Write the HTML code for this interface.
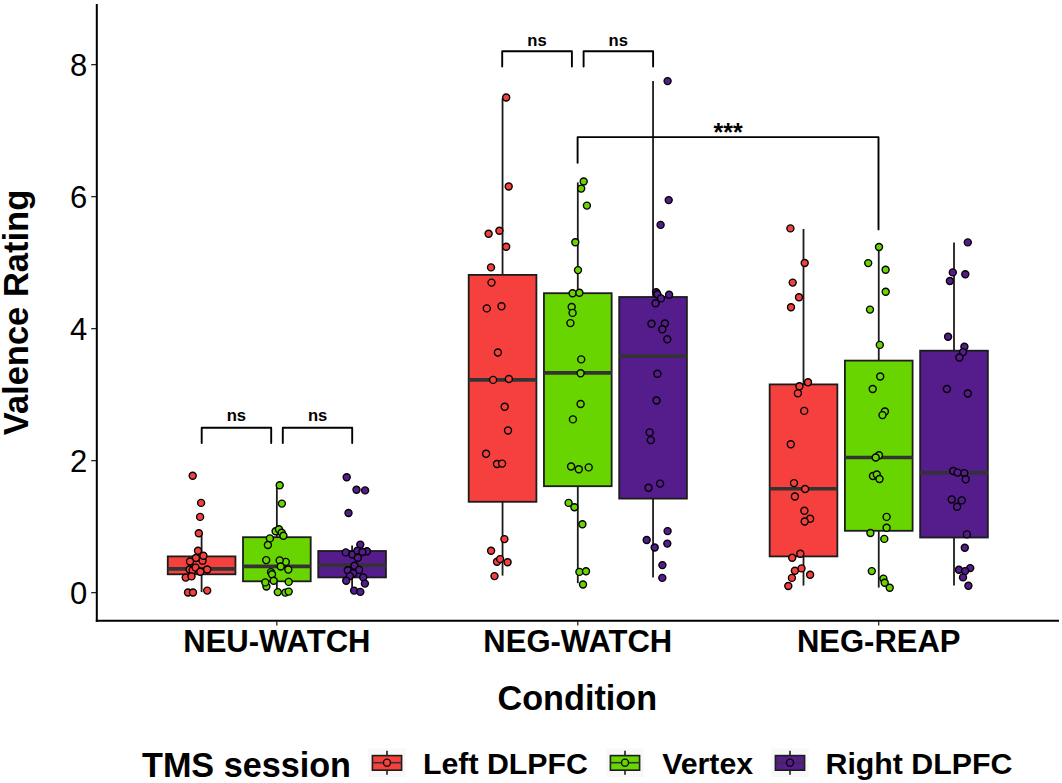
<!DOCTYPE html><html><head><meta charset="utf-8"><style>html,body{margin:0;padding:0;background:#fff;}svg{display:block;}text{font-family:"Liberation Sans",sans-serif;}</style></head><body>
<svg width="1062" height="783" viewBox="0 0 1062 783">
<rect x="0" y="0" width="1062" height="783" fill="#fff"/>
<line x1="201.60" y1="533.3" x2="201.60" y2="556.4" stroke="#1c1c1c" stroke-width="1.8"/>
<line x1="201.60" y1="574.3" x2="201.60" y2="592.1" stroke="#1c1c1c" stroke-width="1.8"/>
<rect x="167.75" y="556.4" width="67.7" height="17.90" fill="#F5403E" stroke="#1c1c1c" stroke-width="1.8"/>
<line x1="167.75" y1="568.9" x2="235.45" y2="568.9" stroke="#333333" stroke-width="3.6"/>
<line x1="276.85" y1="485.2" x2="276.85" y2="537.2" stroke="#1c1c1c" stroke-width="1.8"/>
<line x1="276.85" y1="581.3" x2="276.85" y2="593.0" stroke="#1c1c1c" stroke-width="1.8"/>
<rect x="243.00" y="537.2" width="67.7" height="44.10" fill="#68D400" stroke="#1c1c1c" stroke-width="1.8"/>
<line x1="243.00" y1="566.4" x2="310.70" y2="566.4" stroke="#333333" stroke-width="3.6"/>
<line x1="352.10" y1="545.4" x2="352.10" y2="551.0" stroke="#1c1c1c" stroke-width="1.8"/>
<line x1="352.10" y1="577.4" x2="352.10" y2="590.5" stroke="#1c1c1c" stroke-width="1.8"/>
<rect x="318.25" y="551.0" width="67.7" height="26.40" fill="#551C8C" stroke="#1c1c1c" stroke-width="1.8"/>
<line x1="318.25" y1="565.3" x2="385.95" y2="565.3" stroke="#333333" stroke-width="3.6"/>
<line x1="502.55" y1="98.4" x2="502.55" y2="274.9" stroke="#1c1c1c" stroke-width="1.8"/>
<line x1="502.55" y1="501.8" x2="502.55" y2="575.6" stroke="#1c1c1c" stroke-width="1.8"/>
<rect x="468.70" y="274.9" width="67.7" height="226.90" fill="#F5403E" stroke="#1c1c1c" stroke-width="1.8"/>
<line x1="468.70" y1="379.9" x2="536.40" y2="379.9" stroke="#333333" stroke-width="3.6"/>
<line x1="577.80" y1="182.4" x2="577.80" y2="293.2" stroke="#1c1c1c" stroke-width="1.8"/>
<line x1="577.80" y1="486.2" x2="577.80" y2="583.2" stroke="#1c1c1c" stroke-width="1.8"/>
<rect x="543.95" y="293.2" width="67.7" height="193.00" fill="#68D400" stroke="#1c1c1c" stroke-width="1.8"/>
<line x1="543.95" y1="372.9" x2="611.65" y2="372.9" stroke="#333333" stroke-width="3.6"/>
<line x1="653.05" y1="81.1" x2="653.05" y2="297.0" stroke="#1c1c1c" stroke-width="1.8"/>
<line x1="653.05" y1="498.6" x2="653.05" y2="577.6" stroke="#1c1c1c" stroke-width="1.8"/>
<rect x="619.20" y="297.0" width="67.7" height="201.60" fill="#551C8C" stroke="#1c1c1c" stroke-width="1.8"/>
<line x1="619.20" y1="356.3" x2="686.90" y2="356.3" stroke="#333333" stroke-width="3.6"/>
<line x1="803.50" y1="229.0" x2="803.50" y2="384.4" stroke="#1c1c1c" stroke-width="1.8"/>
<line x1="803.50" y1="556.4" x2="803.50" y2="585.6" stroke="#1c1c1c" stroke-width="1.8"/>
<rect x="769.65" y="384.4" width="67.7" height="172.00" fill="#F5403E" stroke="#1c1c1c" stroke-width="1.8"/>
<line x1="769.65" y1="488.8" x2="837.35" y2="488.8" stroke="#333333" stroke-width="3.6"/>
<line x1="878.75" y1="247.0" x2="878.75" y2="360.6" stroke="#1c1c1c" stroke-width="1.8"/>
<line x1="878.75" y1="530.8" x2="878.75" y2="587.6" stroke="#1c1c1c" stroke-width="1.8"/>
<rect x="844.90" y="360.6" width="67.7" height="170.20" fill="#68D400" stroke="#1c1c1c" stroke-width="1.8"/>
<line x1="844.90" y1="457.5" x2="912.60" y2="457.5" stroke="#333333" stroke-width="3.6"/>
<line x1="954.00" y1="242.5" x2="954.00" y2="350.7" stroke="#1c1c1c" stroke-width="1.8"/>
<line x1="954.00" y1="537.5" x2="954.00" y2="585.4" stroke="#1c1c1c" stroke-width="1.8"/>
<rect x="920.15" y="350.7" width="67.7" height="186.80" fill="#551C8C" stroke="#1c1c1c" stroke-width="1.8"/>
<line x1="920.15" y1="472.8" x2="987.85" y2="472.8" stroke="#333333" stroke-width="3.6"/>
<circle cx="192.7" cy="475.7" r="3.5" fill="#F5403E" stroke="#000" stroke-width="1.4"/>
<circle cx="201.1" cy="502.9" r="3.5" fill="#F5403E" stroke="#000" stroke-width="1.4"/>
<circle cx="200.1" cy="516.9" r="3.5" fill="#F5403E" stroke="#000" stroke-width="1.4"/>
<circle cx="198.8" cy="533.3" r="3.5" fill="#F5403E" stroke="#000" stroke-width="1.4"/>
<circle cx="198" cy="550.7" r="3.5" fill="#F5403E" stroke="#000" stroke-width="1.4"/>
<circle cx="202.6" cy="560.7" r="3.5" fill="#F5403E" stroke="#000" stroke-width="1.4"/>
<circle cx="203.4" cy="555.7" r="3.5" fill="#F5403E" stroke="#000" stroke-width="1.4"/>
<circle cx="195.9" cy="558" r="3.5" fill="#F5403E" stroke="#000" stroke-width="1.4"/>
<circle cx="190" cy="561.5" r="3.5" fill="#F5403E" stroke="#000" stroke-width="1.4"/>
<circle cx="189.6" cy="569.5" r="3.5" fill="#F5403E" stroke="#000" stroke-width="1.4"/>
<circle cx="192.6" cy="570.3" r="3.5" fill="#F5403E" stroke="#000" stroke-width="1.4"/>
<circle cx="195.6" cy="567.6" r="3.5" fill="#F5403E" stroke="#000" stroke-width="1.4"/>
<circle cx="200.3" cy="571.8" r="3.5" fill="#F5403E" stroke="#000" stroke-width="1.4"/>
<circle cx="207.2" cy="569.5" r="3.5" fill="#F5403E" stroke="#000" stroke-width="1.4"/>
<circle cx="185.7" cy="577.6" r="3.5" fill="#F5403E" stroke="#000" stroke-width="1.4"/>
<circle cx="191.5" cy="576.4" r="3.5" fill="#F5403E" stroke="#000" stroke-width="1.4"/>
<circle cx="188" cy="592.5" r="3.5" fill="#F5403E" stroke="#000" stroke-width="1.4"/>
<circle cx="193" cy="592.5" r="3.5" fill="#F5403E" stroke="#000" stroke-width="1.4"/>
<circle cx="207.2" cy="590.6" r="3.5" fill="#F5403E" stroke="#000" stroke-width="1.4"/>
<circle cx="279.7" cy="485.2" r="3.5" fill="#68D400" stroke="#000" stroke-width="1.4"/>
<circle cx="281.9" cy="503.6" r="3.5" fill="#68D400" stroke="#000" stroke-width="1.4"/>
<circle cx="275.6" cy="531.2" r="3.5" fill="#68D400" stroke="#000" stroke-width="1.4"/>
<circle cx="278.9" cy="529.2" r="3.5" fill="#68D400" stroke="#000" stroke-width="1.4"/>
<circle cx="281.7" cy="532.8" r="3.5" fill="#68D400" stroke="#000" stroke-width="1.4"/>
<circle cx="283.4" cy="535.8" r="3.5" fill="#68D400" stroke="#000" stroke-width="1.4"/>
<circle cx="269.9" cy="538.4" r="3.5" fill="#68D400" stroke="#000" stroke-width="1.4"/>
<circle cx="267.9" cy="545" r="3.5" fill="#68D400" stroke="#000" stroke-width="1.4"/>
<circle cx="266.2" cy="560.1" r="3.5" fill="#68D400" stroke="#000" stroke-width="1.4"/>
<circle cx="285.8" cy="561.9" r="3.5" fill="#68D400" stroke="#000" stroke-width="1.4"/>
<circle cx="279.7" cy="560.4" r="3.5" fill="#68D400" stroke="#000" stroke-width="1.4"/>
<circle cx="280.7" cy="566.5" r="3.5" fill="#68D400" stroke="#000" stroke-width="1.4"/>
<circle cx="288.3" cy="569.6" r="3.5" fill="#68D400" stroke="#000" stroke-width="1.4"/>
<circle cx="271" cy="572.1" r="3.5" fill="#68D400" stroke="#000" stroke-width="1.4"/>
<circle cx="272" cy="574.2" r="3.5" fill="#68D400" stroke="#000" stroke-width="1.4"/>
<circle cx="273.7" cy="580.8" r="3.5" fill="#68D400" stroke="#000" stroke-width="1.4"/>
<circle cx="266.4" cy="586.5" r="3.5" fill="#68D400" stroke="#000" stroke-width="1.4"/>
<circle cx="265.3" cy="582.4" r="3.5" fill="#68D400" stroke="#000" stroke-width="1.4"/>
<circle cx="288.7" cy="581.9" r="3.5" fill="#68D400" stroke="#000" stroke-width="1.4"/>
<circle cx="277.8" cy="592.1" r="3.5" fill="#68D400" stroke="#000" stroke-width="1.4"/>
<circle cx="285.3" cy="592.6" r="3.5" fill="#68D400" stroke="#000" stroke-width="1.4"/>
<circle cx="288.7" cy="591.6" r="3.5" fill="#68D400" stroke="#000" stroke-width="1.4"/>
<circle cx="346.7" cy="477.2" r="3.5" fill="#551C8C" stroke="#000" stroke-width="1.4"/>
<circle cx="356.5" cy="489.7" r="3.5" fill="#551C8C" stroke="#000" stroke-width="1.4"/>
<circle cx="365.1" cy="490.4" r="3.5" fill="#551C8C" stroke="#000" stroke-width="1.4"/>
<circle cx="348.5" cy="513" r="3.5" fill="#551C8C" stroke="#000" stroke-width="1.4"/>
<circle cx="360.3" cy="544.6" r="3.5" fill="#551C8C" stroke="#000" stroke-width="1.4"/>
<circle cx="345.8" cy="552.4" r="3.5" fill="#551C8C" stroke="#000" stroke-width="1.4"/>
<circle cx="352.4" cy="554.5" r="3.5" fill="#551C8C" stroke="#000" stroke-width="1.4"/>
<circle cx="357.4" cy="550.8" r="3.5" fill="#551C8C" stroke="#000" stroke-width="1.4"/>
<circle cx="366.9" cy="551.2" r="3.5" fill="#551C8C" stroke="#000" stroke-width="1.4"/>
<circle cx="362.4" cy="552" r="3.5" fill="#551C8C" stroke="#000" stroke-width="1.4"/>
<circle cx="357.8" cy="557.8" r="3.5" fill="#551C8C" stroke="#000" stroke-width="1.4"/>
<circle cx="354.5" cy="565.7" r="3.5" fill="#551C8C" stroke="#000" stroke-width="1.4"/>
<circle cx="359.1" cy="569.9" r="3.5" fill="#551C8C" stroke="#000" stroke-width="1.4"/>
<circle cx="347.8" cy="570.3" r="3.5" fill="#551C8C" stroke="#000" stroke-width="1.4"/>
<circle cx="353.2" cy="573.2" r="3.5" fill="#551C8C" stroke="#000" stroke-width="1.4"/>
<circle cx="349.9" cy="576.1" r="3.5" fill="#551C8C" stroke="#000" stroke-width="1.4"/>
<circle cx="346.2" cy="580.7" r="3.5" fill="#551C8C" stroke="#000" stroke-width="1.4"/>
<circle cx="363.2" cy="577.4" r="3.5" fill="#551C8C" stroke="#000" stroke-width="1.4"/>
<circle cx="364.9" cy="583.6" r="3.5" fill="#551C8C" stroke="#000" stroke-width="1.4"/>
<circle cx="354.1" cy="590.6" r="3.5" fill="#551C8C" stroke="#000" stroke-width="1.4"/>
<circle cx="360.3" cy="591.9" r="3.5" fill="#551C8C" stroke="#000" stroke-width="1.4"/>
<circle cx="506.2" cy="97.5" r="3.5" fill="#F5403E" stroke="#000" stroke-width="1.4"/>
<circle cx="508.7" cy="186.5" r="3.5" fill="#F5403E" stroke="#000" stroke-width="1.4"/>
<circle cx="488.6" cy="233.8" r="3.5" fill="#F5403E" stroke="#000" stroke-width="1.4"/>
<circle cx="499.4" cy="230.7" r="3.5" fill="#F5403E" stroke="#000" stroke-width="1.4"/>
<circle cx="506.2" cy="246.7" r="3.5" fill="#F5403E" stroke="#000" stroke-width="1.4"/>
<circle cx="491" cy="267.4" r="3.5" fill="#F5403E" stroke="#000" stroke-width="1.4"/>
<circle cx="491.5" cy="282.6" r="3.5" fill="#F5403E" stroke="#000" stroke-width="1.4"/>
<circle cx="486.8" cy="308.4" r="3.5" fill="#F5403E" stroke="#000" stroke-width="1.4"/>
<circle cx="501.5" cy="306.3" r="3.5" fill="#F5403E" stroke="#000" stroke-width="1.4"/>
<circle cx="497.9" cy="352.5" r="3.5" fill="#F5403E" stroke="#000" stroke-width="1.4"/>
<circle cx="493.1" cy="379.9" r="3.5" fill="#F5403E" stroke="#000" stroke-width="1.4"/>
<circle cx="508.9" cy="379" r="3.5" fill="#F5403E" stroke="#000" stroke-width="1.4"/>
<circle cx="504.7" cy="406.7" r="3.5" fill="#F5403E" stroke="#000" stroke-width="1.4"/>
<circle cx="508" cy="430.5" r="3.5" fill="#F5403E" stroke="#000" stroke-width="1.4"/>
<circle cx="486.1" cy="453.8" r="3.5" fill="#F5403E" stroke="#000" stroke-width="1.4"/>
<circle cx="497" cy="464" r="3.5" fill="#F5403E" stroke="#000" stroke-width="1.4"/>
<circle cx="502.1" cy="463.6" r="3.5" fill="#F5403E" stroke="#000" stroke-width="1.4"/>
<circle cx="504.4" cy="539.1" r="3.5" fill="#F5403E" stroke="#000" stroke-width="1.4"/>
<circle cx="491.1" cy="550.7" r="3.5" fill="#F5403E" stroke="#000" stroke-width="1.4"/>
<circle cx="497" cy="561.8" r="3.5" fill="#F5403E" stroke="#000" stroke-width="1.4"/>
<circle cx="500.1" cy="559.1" r="3.5" fill="#F5403E" stroke="#000" stroke-width="1.4"/>
<circle cx="507.6" cy="562.3" r="3.5" fill="#F5403E" stroke="#000" stroke-width="1.4"/>
<circle cx="494.5" cy="576.1" r="3.5" fill="#F5403E" stroke="#000" stroke-width="1.4"/>
<circle cx="583.7" cy="181.5" r="3.5" fill="#68D400" stroke="#000" stroke-width="1.4"/>
<circle cx="581.2" cy="188.6" r="3.5" fill="#68D400" stroke="#000" stroke-width="1.4"/>
<circle cx="586.9" cy="205.6" r="3.5" fill="#68D400" stroke="#000" stroke-width="1.4"/>
<circle cx="575.3" cy="242.3" r="3.5" fill="#68D400" stroke="#000" stroke-width="1.4"/>
<circle cx="578" cy="270.1" r="3.5" fill="#68D400" stroke="#000" stroke-width="1.4"/>
<circle cx="572.6" cy="293.3" r="3.5" fill="#68D400" stroke="#000" stroke-width="1.4"/>
<circle cx="579.4" cy="292.8" r="3.5" fill="#68D400" stroke="#000" stroke-width="1.4"/>
<circle cx="571.7" cy="307" r="3.5" fill="#68D400" stroke="#000" stroke-width="1.4"/>
<circle cx="572.6" cy="312.9" r="3.5" fill="#68D400" stroke="#000" stroke-width="1.4"/>
<circle cx="570.4" cy="323.1" r="3.5" fill="#68D400" stroke="#000" stroke-width="1.4"/>
<circle cx="581.2" cy="359.4" r="3.5" fill="#68D400" stroke="#000" stroke-width="1.4"/>
<circle cx="580.6" cy="373.2" r="3.5" fill="#68D400" stroke="#000" stroke-width="1.4"/>
<circle cx="580.6" cy="404" r="3.5" fill="#68D400" stroke="#000" stroke-width="1.4"/>
<circle cx="572.9" cy="419.4" r="3.5" fill="#68D400" stroke="#000" stroke-width="1.4"/>
<circle cx="571.1" cy="466.5" r="3.5" fill="#68D400" stroke="#000" stroke-width="1.4"/>
<circle cx="578.8" cy="469.2" r="3.5" fill="#68D400" stroke="#000" stroke-width="1.4"/>
<circle cx="588.7" cy="467.4" r="3.5" fill="#68D400" stroke="#000" stroke-width="1.4"/>
<circle cx="568.6" cy="502.9" r="3.5" fill="#68D400" stroke="#000" stroke-width="1.4"/>
<circle cx="574.4" cy="507.2" r="3.5" fill="#68D400" stroke="#000" stroke-width="1.4"/>
<circle cx="582.4" cy="524.3" r="3.5" fill="#68D400" stroke="#000" stroke-width="1.4"/>
<circle cx="579.4" cy="571.9" r="3.5" fill="#68D400" stroke="#000" stroke-width="1.4"/>
<circle cx="586" cy="571.2" r="3.5" fill="#68D400" stroke="#000" stroke-width="1.4"/>
<circle cx="583" cy="584.5" r="3.5" fill="#68D400" stroke="#000" stroke-width="1.4"/>
<circle cx="667.6" cy="81.1" r="3.5" fill="#551C8C" stroke="#000" stroke-width="1.4"/>
<circle cx="668.7" cy="200.1" r="3.5" fill="#551C8C" stroke="#000" stroke-width="1.4"/>
<circle cx="660.6" cy="224.9" r="3.5" fill="#551C8C" stroke="#000" stroke-width="1.4"/>
<circle cx="656.2" cy="292.2" r="3.5" fill="#551C8C" stroke="#000" stroke-width="1.4"/>
<circle cx="657.4" cy="294.3" r="3.5" fill="#551C8C" stroke="#000" stroke-width="1.4"/>
<circle cx="661" cy="298.4" r="3.5" fill="#551C8C" stroke="#000" stroke-width="1.4"/>
<circle cx="669.1" cy="294.7" r="3.5" fill="#551C8C" stroke="#000" stroke-width="1.4"/>
<circle cx="655.6" cy="303.3" r="3.5" fill="#551C8C" stroke="#000" stroke-width="1.4"/>
<circle cx="651.5" cy="323.8" r="3.5" fill="#551C8C" stroke="#000" stroke-width="1.4"/>
<circle cx="664.9" cy="323.5" r="3.5" fill="#551C8C" stroke="#000" stroke-width="1.4"/>
<circle cx="662.3" cy="329.2" r="3.5" fill="#551C8C" stroke="#000" stroke-width="1.4"/>
<circle cx="667.3" cy="339.3" r="3.5" fill="#551C8C" stroke="#000" stroke-width="1.4"/>
<circle cx="657.4" cy="373.7" r="3.5" fill="#551C8C" stroke="#000" stroke-width="1.4"/>
<circle cx="656.5" cy="400.5" r="3.5" fill="#551C8C" stroke="#000" stroke-width="1.4"/>
<circle cx="649.7" cy="432.4" r="3.5" fill="#551C8C" stroke="#000" stroke-width="1.4"/>
<circle cx="650.8" cy="440.1" r="3.5" fill="#551C8C" stroke="#000" stroke-width="1.4"/>
<circle cx="648.5" cy="487.7" r="3.5" fill="#551C8C" stroke="#000" stroke-width="1.4"/>
<circle cx="660.1" cy="483.6" r="3.5" fill="#551C8C" stroke="#000" stroke-width="1.4"/>
<circle cx="667.6" cy="531.1" r="3.5" fill="#551C8C" stroke="#000" stroke-width="1.4"/>
<circle cx="646.7" cy="540" r="3.5" fill="#551C8C" stroke="#000" stroke-width="1.4"/>
<circle cx="667.3" cy="543.6" r="3.5" fill="#551C8C" stroke="#000" stroke-width="1.4"/>
<circle cx="654.7" cy="547.5" r="3.5" fill="#551C8C" stroke="#000" stroke-width="1.4"/>
<circle cx="662.4" cy="565.1" r="3.5" fill="#551C8C" stroke="#000" stroke-width="1.4"/>
<circle cx="662.3" cy="577.9" r="3.5" fill="#551C8C" stroke="#000" stroke-width="1.4"/>
<circle cx="790.4" cy="228.4" r="3.5" fill="#F5403E" stroke="#000" stroke-width="1.4"/>
<circle cx="804.7" cy="263" r="3.5" fill="#F5403E" stroke="#000" stroke-width="1.4"/>
<circle cx="792.7" cy="282.6" r="3.5" fill="#F5403E" stroke="#000" stroke-width="1.4"/>
<circle cx="799" cy="297.3" r="3.5" fill="#F5403E" stroke="#000" stroke-width="1.4"/>
<circle cx="791" cy="307.2" r="3.5" fill="#F5403E" stroke="#000" stroke-width="1.4"/>
<circle cx="808" cy="382.2" r="3.5" fill="#F5403E" stroke="#000" stroke-width="1.4"/>
<circle cx="799.4" cy="386.2" r="3.5" fill="#F5403E" stroke="#000" stroke-width="1.4"/>
<circle cx="797.9" cy="393.3" r="3.5" fill="#F5403E" stroke="#000" stroke-width="1.4"/>
<circle cx="804.2" cy="410.9" r="3.5" fill="#F5403E" stroke="#000" stroke-width="1.4"/>
<circle cx="790.8" cy="444.3" r="3.5" fill="#F5403E" stroke="#000" stroke-width="1.4"/>
<circle cx="794" cy="483.1" r="3.5" fill="#F5403E" stroke="#000" stroke-width="1.4"/>
<circle cx="805.1" cy="489" r="3.5" fill="#F5403E" stroke="#000" stroke-width="1.4"/>
<circle cx="794.9" cy="496.5" r="3.5" fill="#F5403E" stroke="#000" stroke-width="1.4"/>
<circle cx="804.4" cy="510.8" r="3.5" fill="#F5403E" stroke="#000" stroke-width="1.4"/>
<circle cx="810.1" cy="518.8" r="3.5" fill="#F5403E" stroke="#000" stroke-width="1.4"/>
<circle cx="804.7" cy="521.5" r="3.5" fill="#F5403E" stroke="#000" stroke-width="1.4"/>
<circle cx="800.3" cy="553.7" r="3.5" fill="#F5403E" stroke="#000" stroke-width="1.4"/>
<circle cx="792.2" cy="557.7" r="3.5" fill="#F5403E" stroke="#000" stroke-width="1.4"/>
<circle cx="801.5" cy="568.4" r="3.5" fill="#F5403E" stroke="#000" stroke-width="1.4"/>
<circle cx="794.9" cy="570.7" r="3.5" fill="#F5403E" stroke="#000" stroke-width="1.4"/>
<circle cx="810.1" cy="574.7" r="3.5" fill="#F5403E" stroke="#000" stroke-width="1.4"/>
<circle cx="791.9" cy="577.9" r="3.5" fill="#F5403E" stroke="#000" stroke-width="1.4"/>
<circle cx="788.3" cy="586" r="3.5" fill="#F5403E" stroke="#000" stroke-width="1.4"/>
<circle cx="879" cy="247" r="3.5" fill="#68D400" stroke="#000" stroke-width="1.4"/>
<circle cx="868.2" cy="263.1" r="3.5" fill="#68D400" stroke="#000" stroke-width="1.4"/>
<circle cx="885.6" cy="269.7" r="3.5" fill="#68D400" stroke="#000" stroke-width="1.4"/>
<circle cx="885.7" cy="291.7" r="3.5" fill="#68D400" stroke="#000" stroke-width="1.4"/>
<circle cx="870" cy="309.6" r="3.5" fill="#68D400" stroke="#000" stroke-width="1.4"/>
<circle cx="879.8" cy="344.9" r="3.5" fill="#68D400" stroke="#000" stroke-width="1.4"/>
<circle cx="880.2" cy="376.5" r="3.5" fill="#68D400" stroke="#000" stroke-width="1.4"/>
<circle cx="872.7" cy="389" r="3.5" fill="#68D400" stroke="#000" stroke-width="1.4"/>
<circle cx="884.9" cy="411.5" r="3.5" fill="#68D400" stroke="#000" stroke-width="1.4"/>
<circle cx="882.5" cy="415.1" r="3.5" fill="#68D400" stroke="#000" stroke-width="1.4"/>
<circle cx="879" cy="455.2" r="3.5" fill="#68D400" stroke="#000" stroke-width="1.4"/>
<circle cx="875.7" cy="457.5" r="3.5" fill="#68D400" stroke="#000" stroke-width="1.4"/>
<circle cx="873" cy="476" r="3.5" fill="#68D400" stroke="#000" stroke-width="1.4"/>
<circle cx="876.8" cy="474.5" r="3.5" fill="#68D400" stroke="#000" stroke-width="1.4"/>
<circle cx="879.5" cy="479" r="3.5" fill="#68D400" stroke="#000" stroke-width="1.4"/>
<circle cx="886.6" cy="516.9" r="3.5" fill="#68D400" stroke="#000" stroke-width="1.4"/>
<circle cx="886.6" cy="527.8" r="3.5" fill="#68D400" stroke="#000" stroke-width="1.4"/>
<circle cx="870.4" cy="533" r="3.5" fill="#68D400" stroke="#000" stroke-width="1.4"/>
<circle cx="884.3" cy="538.9" r="3.5" fill="#68D400" stroke="#000" stroke-width="1.4"/>
<circle cx="871.8" cy="571.1" r="3.5" fill="#68D400" stroke="#000" stroke-width="1.4"/>
<circle cx="883.4" cy="578.6" r="3.5" fill="#68D400" stroke="#000" stroke-width="1.4"/>
<circle cx="884.7" cy="582.7" r="3.5" fill="#68D400" stroke="#000" stroke-width="1.4"/>
<circle cx="889.7" cy="587.8" r="3.5" fill="#68D400" stroke="#000" stroke-width="1.4"/>
<circle cx="967.8" cy="242.4" r="3.5" fill="#551C8C" stroke="#000" stroke-width="1.4"/>
<circle cx="952.8" cy="272.4" r="3.5" fill="#551C8C" stroke="#000" stroke-width="1.4"/>
<circle cx="965.3" cy="274.2" r="3.5" fill="#551C8C" stroke="#000" stroke-width="1.4"/>
<circle cx="949.9" cy="281" r="3.5" fill="#551C8C" stroke="#000" stroke-width="1.4"/>
<circle cx="948.1" cy="336.8" r="3.5" fill="#551C8C" stroke="#000" stroke-width="1.4"/>
<circle cx="964.4" cy="346.7" r="3.5" fill="#551C8C" stroke="#000" stroke-width="1.4"/>
<circle cx="963" cy="352.1" r="3.5" fill="#551C8C" stroke="#000" stroke-width="1.4"/>
<circle cx="959.4" cy="357.5" r="3.5" fill="#551C8C" stroke="#000" stroke-width="1.4"/>
<circle cx="946.9" cy="389" r="3.5" fill="#551C8C" stroke="#000" stroke-width="1.4"/>
<circle cx="967.8" cy="393.5" r="3.5" fill="#551C8C" stroke="#000" stroke-width="1.4"/>
<circle cx="953.2" cy="471" r="3.5" fill="#551C8C" stroke="#000" stroke-width="1.4"/>
<circle cx="957.6" cy="472.6" r="3.5" fill="#551C8C" stroke="#000" stroke-width="1.4"/>
<circle cx="964.3" cy="473.1" r="3.5" fill="#551C8C" stroke="#000" stroke-width="1.4"/>
<circle cx="965.7" cy="479.2" r="3.5" fill="#551C8C" stroke="#000" stroke-width="1.4"/>
<circle cx="951.7" cy="499.5" r="3.5" fill="#551C8C" stroke="#000" stroke-width="1.4"/>
<circle cx="961.7" cy="500.4" r="3.5" fill="#551C8C" stroke="#000" stroke-width="1.4"/>
<circle cx="957.1" cy="506.7" r="3.5" fill="#551C8C" stroke="#000" stroke-width="1.4"/>
<circle cx="966.9" cy="534.4" r="3.5" fill="#551C8C" stroke="#000" stroke-width="1.4"/>
<circle cx="964.8" cy="547.8" r="3.5" fill="#551C8C" stroke="#000" stroke-width="1.4"/>
<circle cx="958.9" cy="569.7" r="3.5" fill="#551C8C" stroke="#000" stroke-width="1.4"/>
<circle cx="970.2" cy="568.1" r="3.5" fill="#551C8C" stroke="#000" stroke-width="1.4"/>
<circle cx="965.1" cy="571.1" r="3.5" fill="#551C8C" stroke="#000" stroke-width="1.4"/>
<circle cx="963" cy="577.4" r="3.5" fill="#551C8C" stroke="#000" stroke-width="1.4"/>
<circle cx="968.4" cy="585.8" r="3.5" fill="#551C8C" stroke="#000" stroke-width="1.4"/>
<line x1="96.8" y1="4" x2="96.8" y2="621.7" stroke="#000" stroke-width="2"/>
<line x1="95.8" y1="620.8" x2="1059" y2="620.8" stroke="#000" stroke-width="2"/>
<line x1="91.2" y1="592.7" x2="96" y2="592.7" stroke="#000" stroke-width="1.1"/>
<text x="87.3" y="603.8" font-size="31" text-anchor="end" fill="#000">0</text>
<line x1="91.2" y1="460.7" x2="96" y2="460.7" stroke="#000" stroke-width="1.1"/>
<text x="87.3" y="471.8" font-size="31" text-anchor="end" fill="#000">2</text>
<line x1="91.2" y1="328.7" x2="96" y2="328.7" stroke="#000" stroke-width="1.1"/>
<text x="87.3" y="339.8" font-size="31" text-anchor="end" fill="#000">4</text>
<line x1="91.2" y1="196.7" x2="96" y2="196.7" stroke="#000" stroke-width="1.1"/>
<text x="87.3" y="207.8" font-size="31" text-anchor="end" fill="#000">6</text>
<line x1="91.2" y1="64.7" x2="96" y2="64.7" stroke="#000" stroke-width="1.1"/>
<text x="87.3" y="75.8" font-size="31" text-anchor="end" fill="#000">8</text>
<line x1="276.85" y1="621.5" x2="276.85" y2="625.5" stroke="#000" stroke-width="1.1"/>
<text x="276.85" y="652.3" font-size="31.0" font-weight="bold" text-anchor="middle" fill="#000">NEU-WATCH</text>
<line x1="577.80" y1="621.5" x2="577.80" y2="625.5" stroke="#000" stroke-width="1.1"/>
<text x="577.80" y="652.3" font-size="31.0" font-weight="bold" text-anchor="middle" fill="#000">NEG-WATCH</text>
<line x1="878.75" y1="621.5" x2="878.75" y2="625.5" stroke="#000" stroke-width="1.1"/>
<text x="878.75" y="652.3" font-size="31.0" font-weight="bold" text-anchor="middle" fill="#000">NEG-REAP</text>
<text x="577.3" y="709.9" font-size="34.2" font-weight="bold" text-anchor="middle" fill="#000">Condition</text>
<text transform="translate(27.8,312.5) rotate(-90)" x="0" y="0" font-size="34.5" font-weight="bold" text-anchor="middle" fill="#000">Valence Rating</text>
<path d="M201.7,443 L201.7,427.8 L271.2,427.8 L271.2,443" fill="none" stroke="#000" stroke-width="1.9" stroke-linejoin="round" stroke-linecap="round"/>
<path d="M282.8,443 L282.8,427.8 L352.2,427.8 L352.2,443" fill="none" stroke="#000" stroke-width="1.9" stroke-linejoin="round" stroke-linecap="round"/>
<text x="236.4" y="421.4" font-size="16.6" font-weight="bold" text-anchor="middle" fill="#000">ns</text>
<text x="317.6" y="421.4" font-size="16.6" font-weight="bold" text-anchor="middle" fill="#000">ns</text>
<path d="M502.2,66.5 L502.2,51.3 L571.9,51.3 L571.9,66.5" fill="none" stroke="#000" stroke-width="1.9" stroke-linejoin="round" stroke-linecap="round"/>
<path d="M583.6,66.5 L583.6,51.3 L653.1,51.3 L653.1,66.5" fill="none" stroke="#000" stroke-width="1.9" stroke-linejoin="round" stroke-linecap="round"/>
<text x="537" y="45.7" font-size="16.6" font-weight="bold" text-anchor="middle" fill="#000">ns</text>
<text x="618.3" y="45.7" font-size="16.6" font-weight="bold" text-anchor="middle" fill="#000">ns</text>
<path d="M577.6,162.8 L577.6,137.1 L878.5,137.1 L878.5,229.4" fill="none" stroke="#000" stroke-width="1.9" stroke-linejoin="round" stroke-linecap="round"/>
<text x="728.1" y="140.5" font-size="25" font-weight="bold" text-anchor="middle" fill="#000">***</text>
<text x="142" y="777.1" font-size="34.2" font-weight="bold" fill="#000">TMS session</text>
<rect x="368.3" y="748.6" width="37.4" height="28.4" fill="#f8f8f8"/>
<line x1="387.0" y1="750.8" x2="387.0" y2="774.8" stroke="#1c1c1c" stroke-width="1.6"/>
<rect x="372.4" y="755.6" width="29.2" height="14.6" fill="#F5403E" stroke="#1c1c1c" stroke-width="1.6"/>
<line x1="372.4" y1="762.7" x2="401.6" y2="762.7" stroke="#333333" stroke-width="1.6"/>
<circle cx="387.0" cy="762.7" r="3.5" fill="#F5403E" stroke="#000" stroke-width="1.3"/>
<rect x="606.3" y="748.6" width="37.4" height="28.4" fill="#f8f8f8"/>
<line x1="625.0" y1="750.8" x2="625.0" y2="774.8" stroke="#1c1c1c" stroke-width="1.6"/>
<rect x="610.4" y="755.6" width="29.2" height="14.6" fill="#68D400" stroke="#1c1c1c" stroke-width="1.6"/>
<line x1="610.4" y1="762.7" x2="639.6" y2="762.7" stroke="#333333" stroke-width="1.6"/>
<circle cx="625.0" cy="762.7" r="3.5" fill="#68D400" stroke="#000" stroke-width="1.3"/>
<rect x="771.3" y="748.6" width="37.4" height="28.4" fill="#f8f8f8"/>
<line x1="790.0" y1="750.8" x2="790.0" y2="774.8" stroke="#1c1c1c" stroke-width="1.6"/>
<rect x="775.4" y="755.6" width="29.2" height="14.6" fill="#551C8C" stroke="#1c1c1c" stroke-width="1.6"/>
<line x1="775.4" y1="762.7" x2="804.6" y2="762.7" stroke="#333333" stroke-width="1.6"/>
<circle cx="790.0" cy="762.7" r="3.5" fill="#551C8C" stroke="#000" stroke-width="1.3"/>
<text x="423" y="773.7" font-size="30.3" font-weight="bold" fill="#000">Left DLPFC</text>
<text x="662.2" y="773.7" font-size="30.3" font-weight="bold" fill="#000">Vertex</text>
<text x="825.5" y="773.7" font-size="30.3" font-weight="bold" fill="#000">Right DLPFC</text>
</svg></body></html>
